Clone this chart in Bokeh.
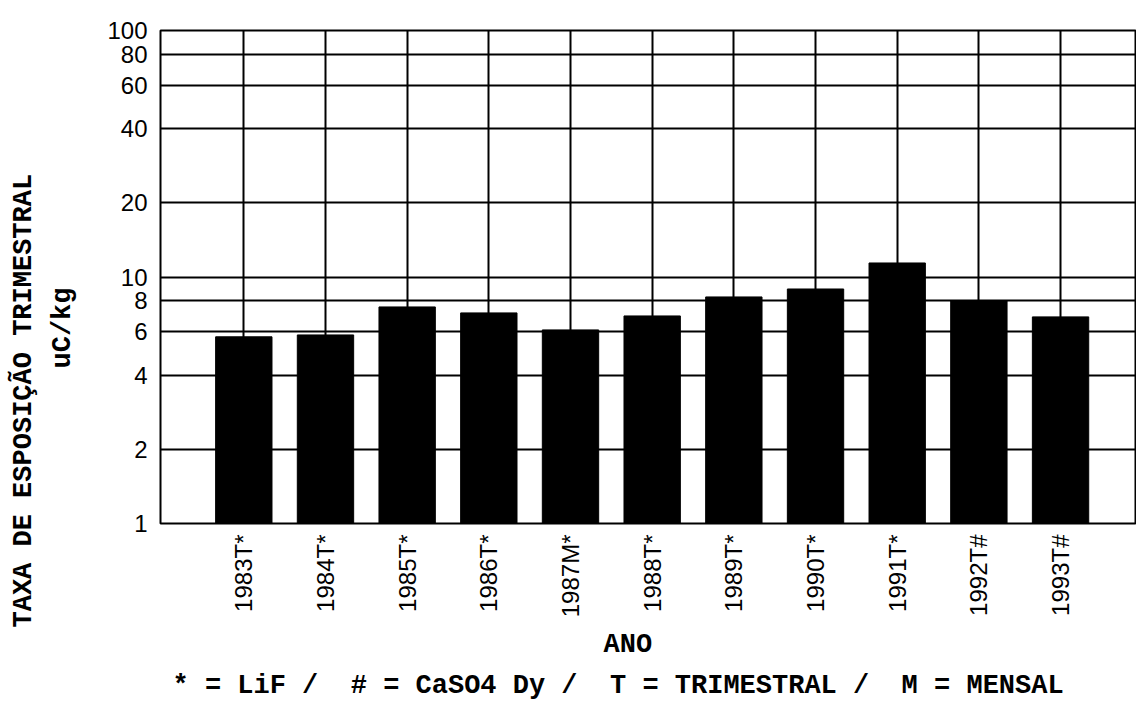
import math
from bokeh.plotting import figure
from bokeh.models import Range1d, FixedTicker, Title
from bokeh.embed import file_html
from bokeh.resources import INLINE

categories = ["1983T*", "1984T*", "1985T*", "1986T*", "1987M*", "1988T*",
              "1989T*", "1990T*", "1991T*", "1992T#", "1993T#"]
values = [5.72, 5.82, 7.56, 7.15, 6.10, 6.95, 8.30, 8.94, 11.4, 8.0, 6.89]
y_ticks = [1, 2, 4, 6, 8, 10, 20, 40, 60, 80, 100]
y_tick_labels = [str(t) for t in y_ticks]

NB = "\u00a0"
y_title = "TAXA DE ESPOSIÇÃO TRIMESTRAL"
y_unit = "uC/kg"
x_title = "ANO"
footnote = ("* = LiF /" + NB + NB + "# = CaSO4 Dy /" + NB + NB +
            "T = TRIMESTRAL /" + NB + NB + "M = MENSAL")

xs = list(range(1, len(categories) + 1))

p = figure(width=1136, height=702, y_axis_type="log",
           x_range=Range1d(-0.02, 11.93), y_range=Range1d(1, 100),
           output_backend="svg", toolbar_location=None,
           min_border_left=160, min_border_right=0,
           min_border_top=30, min_border_bottom=178)

p.background_fill_color = "white"
p.border_fill_color = "white"
p.outline_line_color = "black"
p.outline_line_width = 2

p.vbar(x=xs, top=values, bottom=1, width=0.69, fill_color="black", line_color="black")

p.xgrid.ticker = FixedTicker(ticks=xs)
p.ygrid.ticker = FixedTicker(ticks=y_ticks)
for g in (p.xgrid, p.ygrid):
    g.grid_line_color = "black"
    g.grid_line_width = 2
    g.grid_line_alpha = 1.0

p.xaxis.ticker = FixedTicker(ticks=xs)
p.xaxis.major_label_overrides = {x: c for x, c in zip(xs, categories)}
p.xaxis.major_label_orientation = math.pi / 2
p.xaxis.major_label_standoff = 11

p.yaxis.ticker = FixedTicker(ticks=y_ticks)
p.yaxis.major_label_overrides = {t: s for t, s in zip(y_ticks, y_tick_labels)}
p.yaxis.major_label_standoff = 13

for ax in (p.xaxis, p.yaxis):
    ax.axis_line_color = None
    ax.major_tick_line_color = None
    ax.minor_tick_line_color = None
    ax.major_tick_out = 0
    ax.major_tick_in = 0
    ax.minor_tick_out = 0
    ax.minor_tick_in = 0
    ax.major_label_text_font = "Liberation Sans"
    ax.major_label_text_font_size = "24px"
    ax.major_label_text_color = "black"

mono = "Liberation Mono"

def mk_title(text, offset, standoff, size="27px"):
    return Title(text=text, align="left", offset=offset, standoff=standoff,
                 text_font=mono, text_font_style="bold", text_font_size=size,
                 text_color="black")

# thin spacer between the tick labels and the unit text
p.add_layout(mk_title(NB, 0, 16, "1px"), "left")
p.add_layout(mk_title(y_unit, 155, 15), "left")
p.add_layout(mk_title(y_title, -104, 0), "left")
p.add_layout(mk_title(x_title, 443, 13.5), "below")
p.add_layout(mk_title(footnote, 12, 3.5), "below")

open("out.html", "w").write(file_html(p, INLINE))
